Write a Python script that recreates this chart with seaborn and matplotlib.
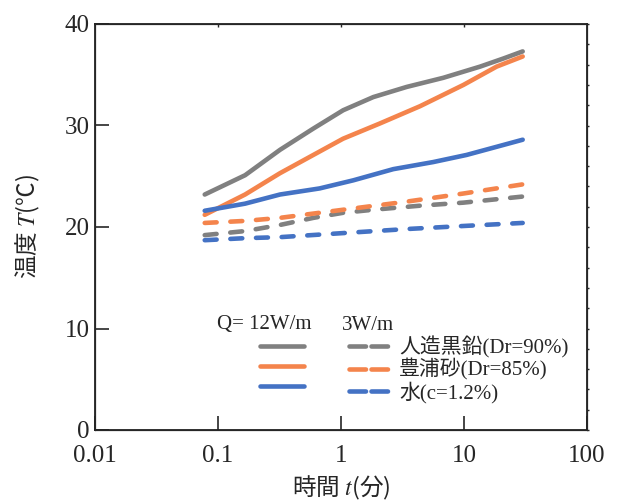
import pandas as pd
import numpy as np
import matplotlib
matplotlib.use('Agg')
import matplotlib.pyplot as plt
from matplotlib.lines import Line2D
import seaborn as sns

# time (min) and temperature (C)
t_gray_12 = [0.078, 0.166, 0.319, 0.596, 1.04, 1.83, 3.42, 6.79, 13.5, 20.9, 30]
T_gray_12 = [23.2, 25.1, 27.6, 29.7, 31.5, 32.8, 33.8, 34.7, 35.8, 36.6, 37.3]

t_orange_12 = [0.078, 0.166, 0.319, 0.596, 1.04, 2.07, 4.39, 9.9, 18.4, 30]
T_orange_12 = [21.2, 23.2, 25.3, 27.1, 28.7, 30.2, 31.9, 34.0, 35.8, 36.8]

t_blue_12 = [0.078, 0.166, 0.319, 0.67, 1.26, 2.66, 5.63, 10.5, 18.4, 30]
T_blue_12 = [21.6, 22.3, 23.2, 23.8, 24.6, 25.7, 26.4, 27.1, 27.9, 28.6]

t_gray_3 = [0.078, 0.166, 0.319, 0.596, 1.04, 1.83, 4.39, 9.9, 30]
T_gray_3 = [19.2, 19.6, 20.2, 20.9, 21.4, 21.7, 22.1, 22.4, 23.0]

t_orange_3 = [0.078, 0.166, 0.319, 1.04, 3.42, 9.9, 30]
T_orange_3 = [20.4, 20.6, 20.9, 21.7, 22.5, 23.3, 24.2]

t_blue_3 = [0.078, 0.166, 0.319, 1.04, 3.42, 9.9, 30]
T_blue_3 = [18.7, 18.9, 19.0, 19.4, 19.8, 20.1, 20.4]

materials = ['人造黒鉛(Dr=90%)', '豊浦砂(Dr=85%)', '水(c=1.2%)']
powers = ['12W/m', '3W/m']

series = [
    (materials[0], powers[0], t_gray_12, T_gray_12),
    (materials[1], powers[0], t_orange_12, T_orange_12),
    (materials[2], powers[0], t_blue_12, T_blue_12),
    (materials[0], powers[1], t_gray_3, T_gray_3),
    (materials[1], powers[1], t_orange_3, T_orange_3),
    (materials[2], powers[1], t_blue_3, T_blue_3),
]
rows = []
for m, q, ts, Ts in series:
    for t, T in zip(ts, Ts):
        rows.append({'t': t, 'T': T, 'material': m, 'Q': q})
df = pd.DataFrame(rows)

colors = {materials[0]: '#808080', materials[1]: '#F4844C', materials[2]: '#4472C4'}
dash_map = {'12W/m': '', '3W/m': (2.6, 3.0)}

sns.set_style('ticks')
plt.rcParams['font.family'] = ['Liberation Serif', 'Noto Sans CJK JP']
plt.rcParams['mathtext.fontset'] = 'stix'

fig = plt.figure(figsize=(6.2, 5.04), dpi=100)
ax = fig.add_axes([95 / 620, 74 / 504, 492 / 620, 406 / 504])

sns.lineplot(data=df, x='t', y='T', hue='material', style='Q', palette=colors,
             dashes=dash_map, hue_order=materials, style_order=powers,
             linewidth=3.3, legend=False, ax=ax, errorbar=None,
             solid_capstyle='round', dash_capstyle='round')

ax.set_xscale('log')
ax.set_xlim(0.01, 100)
ax.set_ylim(0, 40)
ax.set_xticks([0.01, 0.1, 1, 10, 100])
ax.set_xticklabels(['0.01', '0.1', '1', '10', '100'])
ax.set_yticks([0, 10, 20, 30, 40])
ax.minorticks_off()
ax.tick_params(direction='in', length=10, width=1.2, labelsize=18, pad=4)
ax.tick_params(axis='x', pad=11)
for s in ax.spines.values():
    s.set_linewidth(1.3)
    s.set_color('#222222')

# small ticks on the top and right frame
axr = ax.twinx()
axr.set_ylim(0, 40)
axr.set_yticks(np.arange(0, 41, 2))
axr.tick_params(direction='out', length=1.5, width=1, labelright=False)
axt = ax.twiny()
axt.set_xscale('log')
axt.set_xlim(0.01, 100)
axt.set_xticks([0.1, 1, 10])
axt.minorticks_off()
axt.tick_params(direction='in', length=2, width=1, labeltop=False)

ax.set_xlabel('時間 $t$(分)', fontsize=17, family='Noto Sans CJK JP', labelpad=5)
ax.set_ylabel('温度 $T$(℃)', fontsize=17, family='Noto Sans CJK JP', labelpad=16)

handles = []
labels = []
for m in materials:
    handles.append(Line2D([], [], color=colors[m], lw=3.3, solid_capstyle='round'))
    labels.append(' ')
for m in materials:
    handles.append(Line2D([], [], color=colors[m], lw=3.3, dashes=(3.6, 1.2),
                          dash_capstyle='round'))
    labels.append(m)
leg = ax.legend(handles, labels, ncol=2, loc='upper left',
                bbox_to_anchor=(157 / 492, 102 / 406), frameon=False,
                handlelength=2.1, handletextpad=0.3, columnspacing=1.6,
                labelspacing=0.02, fontsize=15, borderaxespad=0)
ax.text(217, 504 - 325, 'Q= 12W/m', transform=None, fontsize=15, va='center')
ax.text(342, 504 - 325, '3W/m', transform=None, fontsize=15, va='center')

fig.savefig('out.png', dpi=100)
